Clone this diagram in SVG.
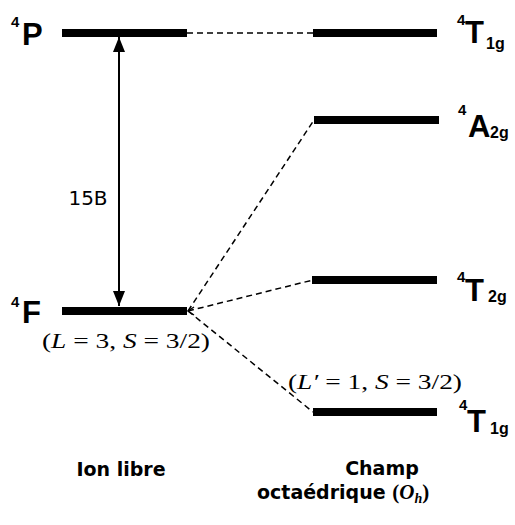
<svg xmlns="http://www.w3.org/2000/svg" width="515" height="525" viewBox="0 0 515 525">
<style>
.bar{fill:#000}
.dash{stroke:#000;stroke-width:1.5;stroke-dasharray:6 4;fill:none}
.lbl{font-family:"Liberation Sans",Arial,sans-serif;font-weight:bold;fill:#000}
.big{font-size:31px}
.sup{font-size:15px}
.sub{font-size:16px}
.txt{font-family:"DejaVu Sans",Verdana,sans-serif;fill:#000}
.math{font-family:"Liberation Serif","Times New Roman",serif;font-size:21px;fill:#000}
</style>
<defs>
<marker id="ah" markerWidth="15" markerHeight="12" refX="15" refY="6" orient="auto" markerUnits="userSpaceOnUse">
<path d="M0,0 L15,6 L0,12 Z" fill="#000"/>
</marker>
</defs>
<rect width="515" height="525" fill="#fff"/>
<g id="connectors">
<line class="dash" x1="187" y1="33" x2="313" y2="33"/>
<line class="dash" x1="188" y1="311" x2="314" y2="120"/>
<line class="dash" x1="188" y1="311" x2="313" y2="280"/>
<line class="dash" x1="188" y1="311" x2="313" y2="412"/>
<polyline points="194,307 188,311 194,315" fill="none" stroke="#000" stroke-width="1.3"/>
<line x1="119" y1="172" x2="119" y2="37" stroke="#000" stroke-width="2" marker-end="url(#ah)"/>
<line x1="119" y1="172" x2="119" y2="306" stroke="#000" stroke-width="2" marker-end="url(#ah)"/>
<text class="txt" x="88" y="205" font-size="20" text-anchor="middle">15B</text>
</g>
<g id="P4">
<rect class="bar" x="62" y="29" width="125" height="8"/>
<text class="lbl sup" x="11" y="27">4</text>
<text class="lbl big" x="22" y="45">P</text>
</g>
<g id="F4">
<rect class="bar" x="62" y="307" width="125" height="8"/>
<text class="lbl sup" x="11" y="307">4</text>
<text class="lbl big" x="22" y="323">F</text>
<text class="math" x="42" y="348" textLength="168" lengthAdjust="spacingAndGlyphs">(<tspan font-style="italic">L</tspan> = 3, <tspan font-style="italic">S</tspan> = 3/2)</text>
</g>
<g id="T1g_top">
<rect class="bar" x="313" y="29" width="124" height="8"/>
<text class="lbl sup" x="457" y="25">4</text>
<text class="lbl big" x="465" y="43">T</text>
<text class="lbl sub" x="486" y="49">1g</text>
</g>
<g id="A2g">
<rect class="bar" x="314" y="116" width="125" height="8"/>
<text class="lbl sup" x="458" y="115">4</text>
<text class="lbl big" x="468" y="137">A</text>
<text class="lbl sub" x="490" y="138">2g</text>
</g>
<g id="T2g">
<rect class="bar" x="312" y="276" width="125" height="8"/>
<text class="lbl sup" x="457" y="282">4</text>
<text class="lbl big" x="465" y="301">T</text>
<text class="lbl sub" x="488" y="302">2g</text>
</g>
<g id="T1g_low">
<rect class="bar" x="313" y="408" width="124" height="8"/>
<text class="lbl sup" x="459" y="410">4</text>
<text class="lbl big" x="467" y="432">T</text>
<text class="lbl sub" x="490" y="434">1g</text>
<text class="math" x="288" y="389" textLength="174" lengthAdjust="spacingAndGlyphs">(<tspan font-style="italic">L′</tspan> = 1, <tspan font-style="italic">S</tspan> = 3/2)</text>
</g>
<g id="labels">
<text class="txt" x="121" y="476" font-size="19" font-weight="bold" text-anchor="middle">Ion libre</text>
<text class="txt" x="382" y="475" font-size="19" font-weight="bold" text-anchor="middle">Champ</text>
<text class="txt" x="257" y="499" font-size="19" font-weight="bold">octaédrique <tspan font-family="Liberation Serif,serif" font-size="21" font-weight="bold">(<tspan font-style="italic">O</tspan><tspan font-style="italic" font-size="14" dy="4">h</tspan><tspan dy="-4">)</tspan></tspan></text>
</g>
</svg>
